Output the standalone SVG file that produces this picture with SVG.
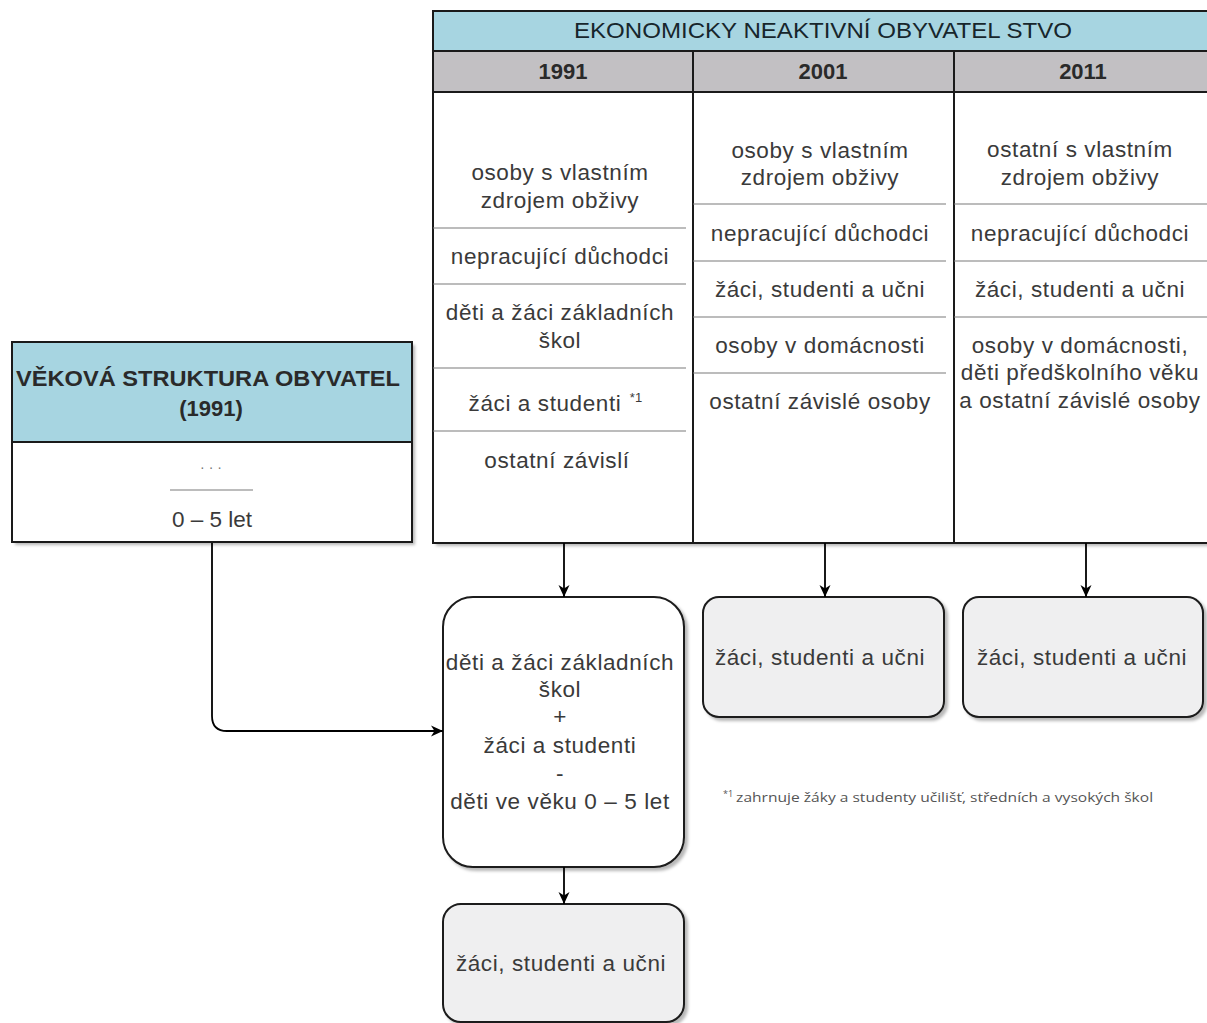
<svg xmlns="http://www.w3.org/2000/svg" width="1207" height="1023" viewBox="0 0 1207 1023">
<style>
.t{font-family:"Liberation Sans",Arial,sans-serif;font-size:22.5px;letter-spacing:0.6px;fill:#3a3a3a;text-anchor:middle}
.h{font-family:"Liberation Sans",Arial,sans-serif;font-size:22px;fill:#17262c;text-anchor:middle}
.b{font-family:"Liberation Sans",Arial,sans-serif;font-size:22px;font-weight:bold;fill:#2a2a2a;text-anchor:middle}
.frame{stroke:#1a1a1a;stroke-width:2;fill:none}
.sep{stroke:#7a7a7a;stroke-width:1.2}
.res{fill:#efeff0;stroke:#1a1a1a;stroke-width:2}
.conn{stroke:#000;stroke-width:1.8;fill:none}
</style>
<defs>
<filter id="sh" x="-5%" y="-5%" width="112%" height="112%">
<feDropShadow dx="3" dy="3" stdDeviation="1.5" flood-color="#000" flood-opacity="0.28"/>
</filter>
<marker id="arr" viewBox="0 0 12 12" refX="12" refY="6" markerWidth="12" markerHeight="12" markerUnits="userSpaceOnUse" orient="auto">
<path d="M0,0.5 L12,6 L0,11.5 L3.5,6 z" fill="#000"/>
</marker>
</defs>
<rect width="1207" height="1023" fill="#fff"/>

<g id="table">
<rect x="433" y="11" width="781" height="532" fill="#fff" filter="url(#sh)"/>
<rect x="433" y="11" width="781" height="40" fill="#a7d5e1"/>
<rect x="433" y="51" width="781" height="41" fill="#c2c0c3"/>
<rect x="433" y="11" width="781" height="532" class="frame"/>
<line x1="433" y1="51" x2="1214" y2="51" class="frame"/>
<line x1="433" y1="92" x2="1214" y2="92" class="frame"/>
<line x1="693" y1="51" x2="693" y2="543" class="frame"/>
<line x1="954" y1="51" x2="954" y2="543" class="frame"/>
<text class="h" x="823" y="38" textLength="498" lengthAdjust="spacingAndGlyphs">EKONOMICKY NEAKTIVNÍ OBYVATEL STVO</text>
<text class="b" x="563" y="79">1991</text>
<text class="b" x="823" y="79">2001</text>
<text class="b" x="1083" y="79">2011</text>
</g>

<g id="col1991">
<line x1="433" y1="228" x2="686" y2="228" class="sep"/>
<line x1="433" y1="284" x2="686" y2="284" class="sep"/>
<line x1="433" y1="368" x2="686" y2="368" class="sep"/>
<line x1="433" y1="431" x2="686" y2="431" class="sep"/>
<text class="t" x="560" y="180">osoby s vlastním</text>
<text class="t" x="560" y="208">zdrojem obživy</text>
<text class="t" x="560" y="264">nepracující důchodci</text>
<text class="t" x="560" y="320">děti a žáci základních</text>
<text class="t" x="560" y="348">škol</text>
<text class="t" x="545" y="411">žáci a studenti</text>
<text class="t" x="636" y="402" style="font-size:13px;letter-spacing:0">*1</text>
<text class="t" x="557" y="468">ostatní závislí</text>
</g>

<g id="col2001">
<line x1="693" y1="204" x2="946" y2="204" class="sep"/>
<line x1="693" y1="261" x2="946" y2="261" class="sep"/>
<line x1="693" y1="317" x2="946" y2="317" class="sep"/>
<line x1="693" y1="373" x2="946" y2="373" class="sep"/>
<text class="t" x="820" y="158">osoby s vlastním</text>
<text class="t" x="820" y="185">zdrojem obživy</text>
<text class="t" x="820" y="241">nepracující důchodci</text>
<text class="t" x="820" y="297">žáci, studenti a učni</text>
<text class="t" x="820" y="353">osoby v domácnosti</text>
<text class="t" x="820" y="409">ostatní závislé osoby</text>
</g>

<g id="col2011">
<line x1="954" y1="204" x2="1207" y2="204" class="sep"/>
<line x1="954" y1="261" x2="1207" y2="261" class="sep"/>
<line x1="954" y1="317" x2="1207" y2="317" class="sep"/>
<text class="t" x="1080" y="157">ostatní s vlastním</text>
<text class="t" x="1080" y="185">zdrojem obživy</text>
<text class="t" x="1080" y="241">nepracující důchodci</text>
<text class="t" x="1080" y="297">žáci, studenti a učni</text>
<text class="t" x="1080" y="353">osoby v domácnosti,</text>
<text class="t" x="1080" y="380">děti předškolního věku</text>
<text class="t" x="1080" y="408">a ostatní závislé osoby</text>
</g>

<g id="age">
<rect x="12" y="342" width="400" height="200" fill="#fff" filter="url(#sh)"/>
<rect x="12" y="342" width="400" height="100" fill="#a7d5e1"/>
<rect x="12" y="342" width="400" height="200" class="frame"/>
<line x1="12" y1="442" x2="412" y2="442" class="frame"/>
<text class="b" x="208" y="386" textLength="384" lengthAdjust="spacingAndGlyphs">VĚKOVÁ STRUKTURA OBYVATEL</text>
<text class="b" x="211" y="416">(1991)</text>
<text class="t" x="211" y="472" style="font-size:14px;fill:#777;letter-spacing:0">· · ·</text>
<line x1="170" y1="490" x2="253" y2="490" class="sep"/>
<text class="t" x="212" y="527" style="letter-spacing:0">0 – 5 let</text>
</g>

<g id="calc">
<rect x="443" y="597" width="241" height="270" rx="30" fill="#fff" stroke="#1a1a1a" stroke-width="2" filter="url(#sh)"/>
<text class="t" x="560" y="670">děti a žáci základních</text>
<text class="t" x="560" y="697">škol</text>
<text class="t" x="560" y="724">+</text>
<text class="t" x="560" y="753">žáci a studenti</text>
<text class="t" x="560" y="781">-</text>
<text class="t" x="560" y="809">děti ve věku 0 – 5 let</text>
</g>

<g id="res1991">
<rect x="443" y="904" width="241" height="118" rx="18" class="res" filter="url(#sh)"/>
<text class="t" x="561" y="971">žáci, studenti a učni</text>
</g>

<g id="res2001">
<rect x="703" y="597" width="241" height="120" rx="16" class="res" filter="url(#sh)"/>
<text class="t" x="820" y="665">žáci, studenti a učni</text>
</g>

<g id="res2011">
<rect x="963" y="597" width="240" height="120" rx="16" class="res" filter="url(#sh)"/>
<text class="t" x="1082" y="665">žáci, studenti a učni</text>
</g>

<g id="footnote">
<text x="723" y="802" style="font-family:'Open Sans','Liberation Sans',sans-serif;font-size:13px;fill:#555"><tspan dy="-5" style="font-size:9px">*1</tspan><tspan dy="5" dx="3" textLength="417" lengthAdjust="spacingAndGlyphs">zahrnuje žáky a studenty učilišť, středních a vysokých škol</tspan></text>
</g>

<g id="connectors">
<line x1="564" y1="543" x2="564" y2="597" class="conn" marker-end="url(#arr)"/>
<line x1="825" y1="543" x2="825" y2="597" class="conn" marker-end="url(#arr)"/>
<line x1="1086" y1="543" x2="1086" y2="597" class="conn" marker-end="url(#arr)"/>
<line x1="564" y1="867" x2="564" y2="904" class="conn" marker-end="url(#arr)"/>
<path d="M212,543 L212,716 Q212,731 227,731 L443,731" class="conn" marker-end="url(#arr)"/>
</g>
</svg>
